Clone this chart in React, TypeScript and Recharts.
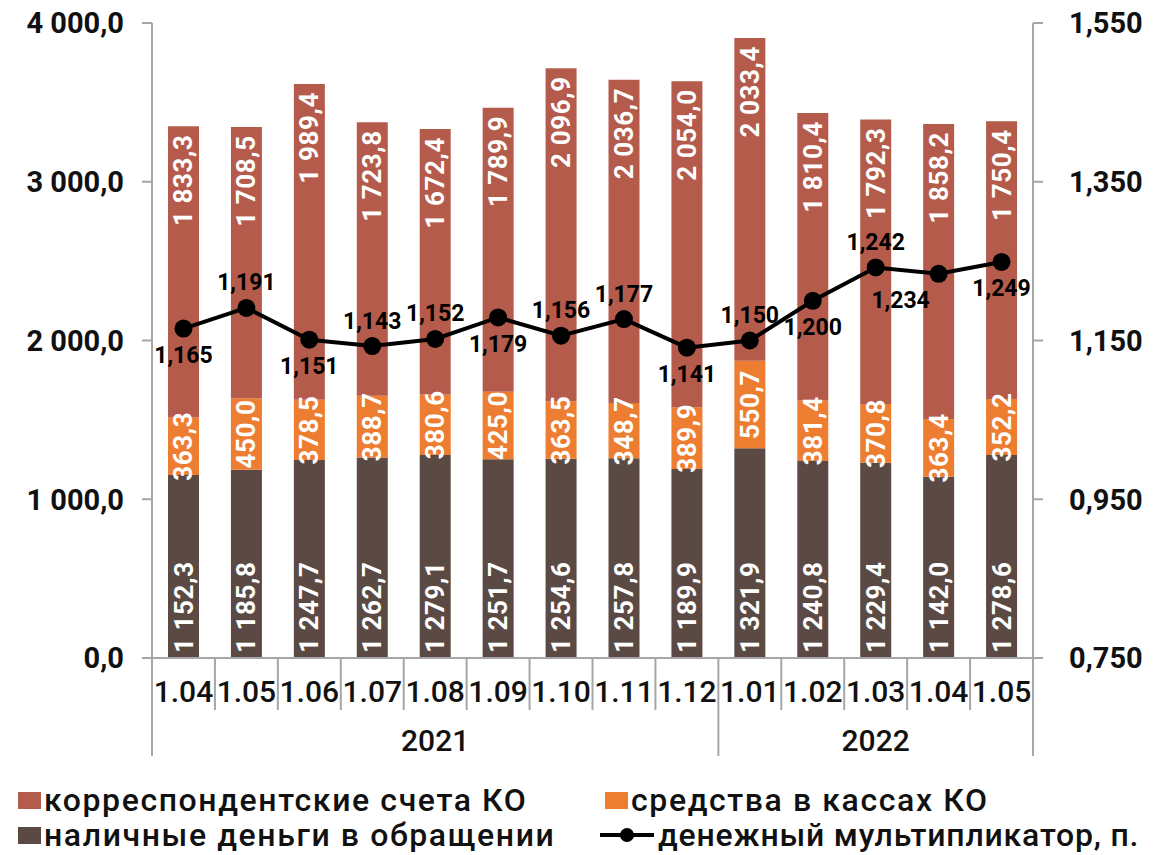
import { ComposedChart, Bar, Line, XAxis, YAxis, LabelList } from 'recharts'

const months = ['1.04', '1.05', '1.06', '1.07', '1.08', '1.09', '1.10', '1.11', '1.12', '1.01', '1.02', '1.03', '1.04', '1.05']
const yearGroups = [
  { label: '2021', from: 0, to: 8 },
  { label: '2022', from: 9, to: 13 },
]
const corrAccounts = [1833.3, 1708.5, 1989.4, 1723.8, 1672.4, 1789.9, 2096.9, 2036.7, 2054.0, 2033.4, 1810.4, 1792.3, 1858.2, 1750.4]
const cashInBanks = [363.3, 450.0, 378.5, 388.7, 380.6, 425.0, 363.5, 348.7, 389.9, 550.7, 381.4, 370.8, 363.4, 352.2]
const cashInCirculation = [1152.3, 1185.8, 1247.7, 1262.7, 1279.1, 1251.7, 1254.6, 1257.8, 1189.9, 1321.9, 1240.8, 1229.4, 1142.0, 1278.6]
const multiplier = [1.165, 1.191, 1.151, 1.143, 1.152, 1.179, 1.156, 1.177, 1.141, 1.150, 1.200, 1.242, 1.234, 1.249]
const leftTicks = [0, 1000, 2000, 3000, 4000]
const rightTicks = [0.75, 0.95, 1.15, 1.35, 1.55]
// which multiplier labels sit under the point
const labelsBelow = [0, 2, 5, 8, 10, 12, 13]

const data = months.map((m, i) => ({
  m,
  corr: corrAccounts[i],
  banks: cashInBanks[i],
  cash: cashInCirculation[i],
  mult: multiplier[i],
}))

const W = 1153
const H = 770
const PLOT_LEFT = 152
const PLOT_RIGHT = 1033
const PLOT_TOP = 23
const PLOT_BOTTOM = 658
const BAND = (PLOT_RIGHT - PLOT_LEFT) / months.length

const RED = '#B45B4C'
const ORANGE = '#ED7D31'
const BROWN = '#5B4A43'
const GRID = '#A6A6A6'
const FONT = 'Roboto, "Noto Sans", sans-serif'

function fmt(v: number, digits: number) {
  const [int, dec] = v.toFixed(digits).split('.')
  const grouped = int.replace(/\B(?=(\d{3})+(?!\d))/g, ' ')
  return dec ? `${grouped},${dec}` : grouped
}

function MonthTick(props: any) {
  const { x, payload, index } = props
  const left = x - BAND / 2
  const isYearStart = yearGroups.some((g) => g.from === index)
  const isLast = index === months.length - 1
  const group = yearGroups.find((g) => Math.floor((g.from + g.to) / 2) === index)
  const groupCenter = group ? PLOT_LEFT + BAND * ((group.from + group.to + 1) / 2) : 0
  return (
    <g>
      <line x1={left} x2={left} y1={PLOT_BOTTOM} y2={isYearStart ? 756 : 710} stroke={GRID} strokeWidth={2} />
      {isLast && <line x1={x + BAND / 2} x2={x + BAND / 2} y1={PLOT_BOTTOM} y2={756} stroke={GRID} strokeWidth={2} />}
      <text x={x} y={691} textAnchor="middle" dominantBaseline="central" fontSize={30} fontWeight={500} fill="#111" fontFamily={FONT}>
        {payload.value}
      </text>
      {group && (
        <text x={groupCenter} y={740} textAnchor="middle" dominantBaseline="central" fontSize={30} fontWeight={500} fill="#111" fontFamily={FONT}>
          {group.label}
        </text>
      )}
    </g>
  )
}

function barLabel(place: 'base' | 'center' | 'top') {
  return (props: any) => {
    const { x, y, width, height, value } = props
    const cx = x + width / 2
    let ay = y + height / 2
    let anchor: 'start' | 'middle' | 'end' = 'middle'
    if (place === 'base') {
      ay = y + height - 5
      anchor = 'start'
    } else if (place === 'top') {
      ay = y + 8
      anchor = 'end'
    }
    return (
      <text
        x={cx}
        y={ay}
        transform={`rotate(-90 ${cx} ${ay})`}
        textAnchor={anchor}
        dominantBaseline="central"
        fill="#fff"
        fontSize={26}
        fontWeight={700}
        fontFamily={FONT}
        letterSpacing={0.6}
      >
        {fmt(Number(value), 1)}
      </text>
    )
  }
}

function lineLabel(props: any) {
  const { x, y, value, index } = props
  const below = labelsBelow.includes(index)
  const dx = index === 12 ? -38 : 0
  return (
    <text
      x={x + dx}
      y={below ? y + 27 : y - 25}
      textAnchor="middle"
      dominantBaseline="central"
      fill="#000"
      fontSize={23}
      fontWeight={700}
      fontFamily={FONT}
    >
      {fmt(Number(value), 3)}
    </text>
  )
}

function Swatch({ color }: { color: string }) {
  return <span style={{ display: 'inline-block', width: 23, height: 17, background: color, marginRight: 3 }} />
}

function LineSwatch() {
  return (
    <svg width={58} height={20} style={{ marginRight: 2 }}>
      <line x1={2} x2={56} y1={10} y2={10} stroke="#000" strokeWidth={4} />
      <circle cx={29} cy={10} r={7} fill="#000" />
    </svg>
  )
}

const legendText: React.CSSProperties = {
  position: 'absolute',
  display: 'flex',
  alignItems: 'center',
  fontFamily: FONT,
  fontSize: 32,
  fontWeight: 500,
  letterSpacing: 1.6,
  lineHeight: '32px',
  height: 32,
  color: '#111',
  whiteSpace: 'nowrap',
}

export default function App() {
  return (
    <div style={{ position: 'absolute', left: 0, top: 0, width: W, height: 855, background: '#fff' }}>
      <ComposedChart
        width={W}
        height={H}
        data={data}
        margin={{ top: PLOT_TOP, right: 0, bottom: H - PLOT_BOTTOM - 100, left: 0 }}
        barCategoryGap={BAND - 31}
      >
        <XAxis dataKey="m" interval={0} tickLine={false} axisLine={{ stroke: GRID, strokeWidth: 2 }} height={100} tick={<MonthTick />} />
        <YAxis
          yAxisId="left"
          width={PLOT_LEFT}
          domain={[0, 4000]}
          ticks={leftTicks}
          tickFormatter={(v) => fmt(v, 1)}
          tick={{ fontSize: 29, fontWeight: 700, fill: '#111', fontFamily: FONT }}
          axisLine={{ stroke: GRID, strokeWidth: 2 }}
          tickLine={{ stroke: GRID, strokeWidth: 2 }}
          tickSize={10}
          tickMargin={18}
        />
        <YAxis
          yAxisId="right"
          orientation="right"
          width={W - PLOT_RIGHT}
          domain={[0.75, 1.55]}
          ticks={rightTicks}
          tickFormatter={(v) => fmt(v, 3)}
          tick={{ fontSize: 29, fontWeight: 700, fill: '#111', fontFamily: FONT }}
          axisLine={{ stroke: GRID, strokeWidth: 2 }}
          tickLine={{ stroke: GRID, strokeWidth: 2 }}
          tickSize={10}
          tickMargin={26}
          allowDataOverflow
        />
        <Bar yAxisId="left" dataKey="cash" stackId="s" fill={BROWN} barSize={31} isAnimationActive={false}>
          <LabelList dataKey="cash" content={barLabel('base')} />
        </Bar>
        <Bar yAxisId="left" dataKey="banks" stackId="s" fill={ORANGE} barSize={31} isAnimationActive={false}>
          <LabelList dataKey="banks" content={barLabel('center')} />
        </Bar>
        <Bar yAxisId="left" dataKey="corr" stackId="s" fill={RED} barSize={31} isAnimationActive={false}>
          <LabelList dataKey="corr" content={barLabel('top')} />
        </Bar>
        <Line
          yAxisId="right"
          dataKey="mult"
          stroke="#000"
          strokeWidth={4}
          dot={{ r: 9, fill: '#000', stroke: '#000', strokeWidth: 0 }}
          isAnimationActive={false}
        >
          <LabelList dataKey="mult" content={lineLabel} />
        </Line>
      </ComposedChart>
      <div style={{ ...legendText, left: 18, top: 784 }}>
        <Swatch color={RED} />корреспондентские счета КО
      </div>
      <div style={{ ...legendText, left: 605, top: 784 }}>
        <Swatch color={ORANGE} />средства в кассах КО
      </div>
      <div style={{ ...legendText, left: 18, top: 819 }}>
        <Swatch color={BROWN} />наличные деньги в обращении
      </div>
      <div style={{ ...legendText, left: 598, top: 819, letterSpacing: 0.8 }}>
        <LineSwatch />денежный мультипликатор, п.
      </div>
    </div>
  )
}
